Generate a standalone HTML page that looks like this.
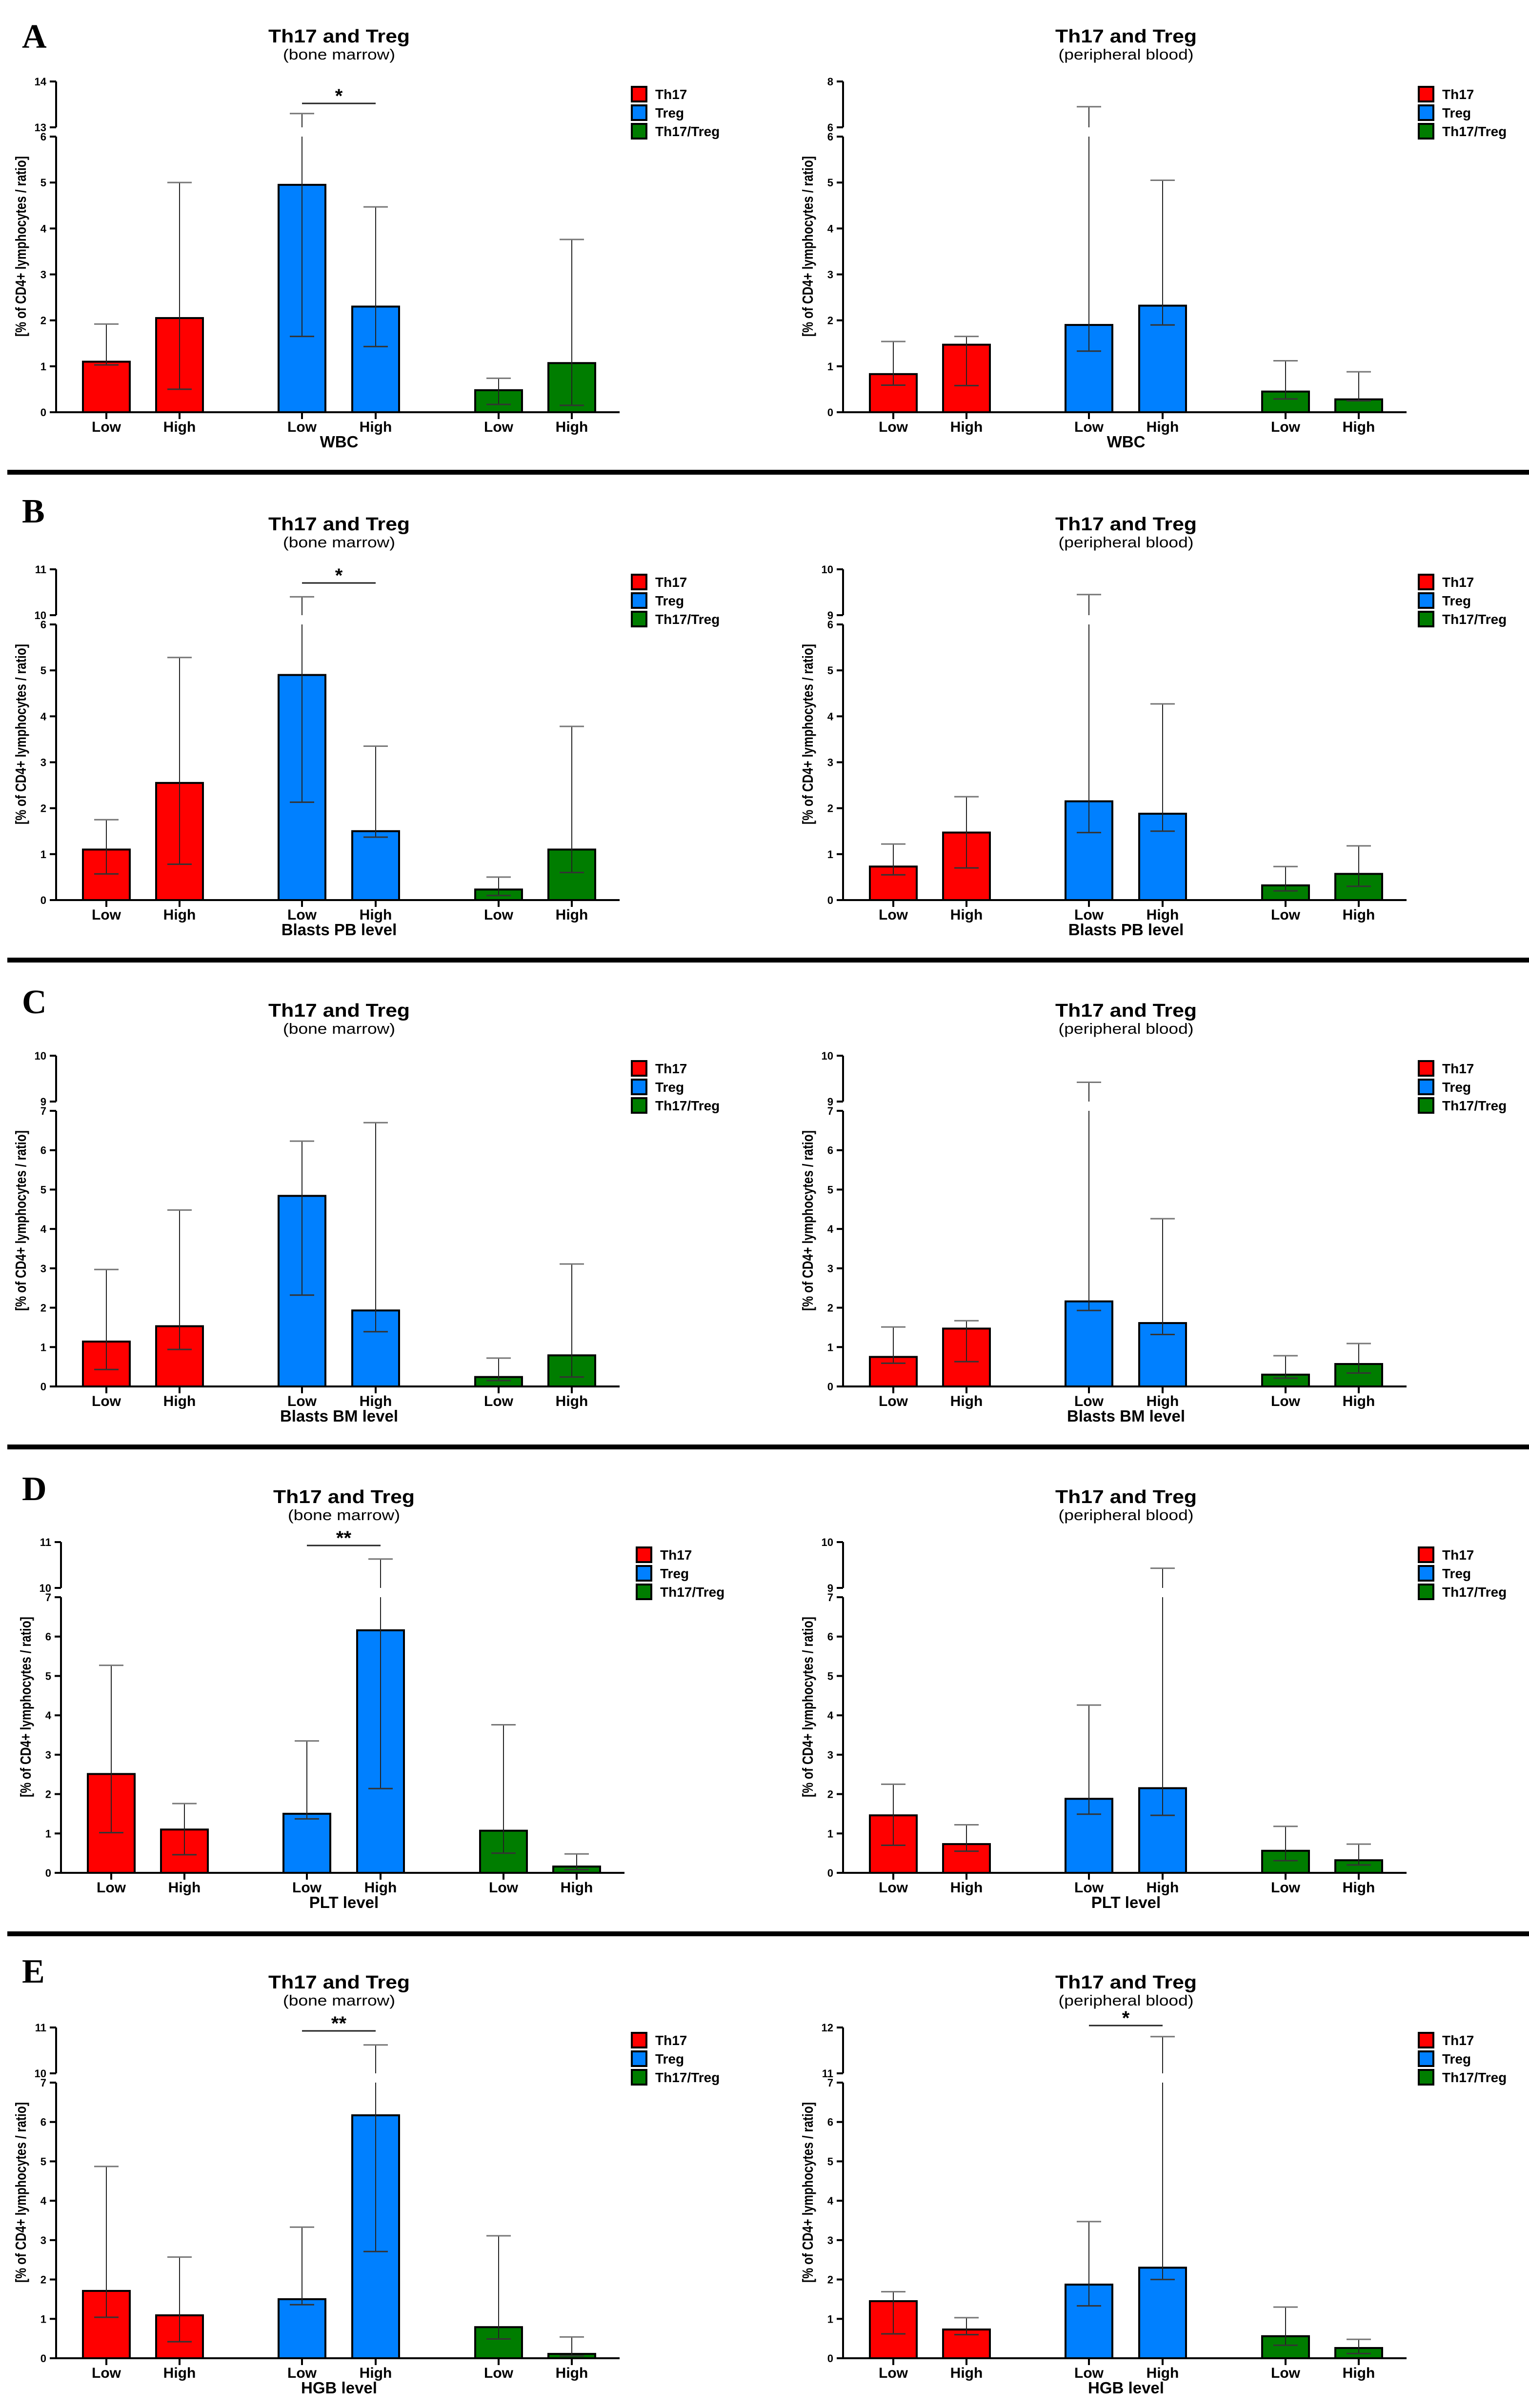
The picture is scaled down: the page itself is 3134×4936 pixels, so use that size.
<!DOCTYPE html>
<html><head><meta charset="utf-8"><title>Th17 and Treg</title>
<style>html,body{margin:0;padding:0;background:#fff}svg{display:block}</style></head>
<body>
<svg id="fig" xmlns="http://www.w3.org/2000/svg" width="3134" height="4936" viewBox="0 0 3134 4936" font-family="'Liberation Sans', Arial, sans-serif"></svg>
<script>
const groups = ['Th17','Treg','Th17/Treg'];
const levels = ['Low','High'];
const rowLetters = ['A','B','C','D','E'];
const rowXTitles = ['WBC','Blasts PB level','Blasts BM level','PLT level','HGB level'];
// axis ranges [lowerMax, upperMin, upperMax]
const aBmAxis=[6,13,14], aPbAxis=[6,6,8];
const bBmAxis=[6,10,11], bPbAxis=[6,9,10];
const cBmAxis=[7,9,10],  cPbAxis=[7,9,10];
const dBmAxis=[7,10,11], dPbAxis=[7,9,10];
const eBmAxis=[7,10,11], ePbAxis=[7,11,12];
// values: Th17 Low, Th17 High, Treg Low, Treg High, Ratio Low, Ratio High
const aBmVal=[1.1,2.05,4.95,2.3,0.48,1.07], aBmLo=[1.03,0.5,1.65,1.43,0.17,0.15], aBmHi=[1.92,5.0,13.3,4.47,0.74,3.76];
const aPbVal=[0.83,1.47,1.9,2.32,0.45,0.28], aPbLo=[0.59,0.58,1.33,1.9,0.29,0.25], aPbHi=[1.54,1.65,6.9,5.05,1.12,0.88];
const bBmVal=[1.1,2.55,4.9,1.5,0.23,1.1], bBmLo=[0.57,0.78,2.13,1.37,0.1,0.6], bBmHi=[1.75,5.28,10.4,3.35,0.5,3.78];
const bPbVal=[0.73,1.47,2.15,1.88,0.32,0.57], bPbLo=[0.55,0.7,1.47,1.5,0.2,0.3], bPbHi=[1.22,2.25,9.45,4.27,0.73,1.18];
const cBmVal=[1.14,1.53,4.84,1.93,0.24,0.79], cBmLo=[0.43,0.94,2.32,1.39,0.15,0.24], cBmHi=[2.97,4.48,6.23,6.7,0.72,3.11];
const cPbVal=[0.75,1.47,2.16,1.61,0.3,0.57], cPbLo=[0.59,0.63,1.93,1.32,0.21,0.34], cPbHi=[1.51,1.67,9.42,4.26,0.78,1.09];
const dBmVal=[2.51,1.1,1.5,6.16,1.07,0.16], dBmLo=[1.02,0.46,1.37,2.14,0.5,0.08], dBmHi=[5.27,1.76,3.35,10.63,3.76,0.48];
const dPbVal=[1.46,0.73,1.88,2.15,0.56,0.32], dPbLo=[0.7,0.55,1.49,1.46,0.31,0.2], dPbHi=[2.25,1.22,4.26,9.43,1.18,0.73];
const eBmVal=[1.71,1.09,1.5,6.17,0.79,0.11], eBmLo=[1.04,0.42,1.36,2.71,0.49,0.06], eBmHi=[4.87,2.57,3.33,10.62,3.11,0.54];
const ePbVal=[1.45,0.73,1.87,2.3,0.56,0.26], ePbLo=[0.62,0.6,1.33,2.0,0.33,0.12], ePbHi=[1.69,1.03,3.47,11.8,1.3,0.48];
// significance labels (between Treg Low and Treg High), '' = none
const bmSig=['*','*','','**','**'];
const pbSig=['','','','','*'];

const NS='http://www.w3.org/2000/svg';
const svg=document.getElementById('fig');
function mk(tag,attrs,parent,txt){const e=document.createElementNS(NS,tag);for(const k in attrs)e.setAttribute(k,attrs[k]);if(txt!==undefined)e.textContent=txt;(parent||svg).appendChild(e);return e;}

const rowZero=[853,1853,2850,3847,4842];
const letterY=[98,1071,2077,3075,4064];
const sepY=[968,1968,2966,3964];
const sigOff=[[-641,0],[-658,0],[0,0],[-679,0],[-679,-690]];
const colors=['#ff0000','#0080ff','#007d00'];
const barOff=[103,253,504,655,907,1057];
const panelData=[
 [[aBmAxis,aBmVal,aBmLo,aBmHi],[aPbAxis,aPbVal,aPbLo,aPbHi]],
 [[bBmAxis,bBmVal,bBmLo,bBmHi],[bPbAxis,bPbVal,bPbLo,bPbHi]],
 [[cBmAxis,cBmVal,cBmLo,cBmHi],[cPbAxis,cPbVal,cPbLo,cPbHi]],
 [[dBmAxis,dBmVal,dBmLo,dBmHi],[dPbAxis,dPbVal,dPbLo,dPbHi]],
 [[eBmAxis,eBmVal,eBmLo,eBmHi],[ePbAxis,ePbVal,ePbLo,ePbHi]]
];

sepY.forEach((y,i)=>{
  const l=mk('rect',{x:15,y:y-5,width:3119,height:10,fill:'#000'});
  
  
});

for(let r=0;r<5;r++){
  const lt=mk('text',{x:45,y:letterY[r],'font-family':"'Liberation Serif', serif",'font-weight':'bold','font-size':70},svg,rowLetters[r]);
  
  
  for(let c=0;c<2;c++){
    const [axis,val,lo,hi]=panelData[r][c];
    const zero=rowZero[r];
    const zb=zero-8;
    const ax=c===0?(r===3?125:115):1728;
    const g=mk('g',{});
    
    
    const [lmax,umin,umax]=axis;
    const yS=v=> v<=lmax ? zb - v/lmax*565 : zero-592-(v-umin)/(umax-umin)*94;
    const t=mk('text',{x:ax+580,y:zero-766,'text-anchor':'middle','font-weight':'bold','font-size':38,textLength:290,lengthAdjust:'spacingAndGlyphs'},g,'Th17 and Treg');
    
    const subTxt=c===0?'(bone marrow)':'(peripheral blood)';
    const st=mk('text',{x:ax+580,y:zero-731,'text-anchor':'middle','font-size':31,textLength:c===0?230:277,lengthAdjust:'spacingAndGlyphs'},g,subTxt);
    
    const ya=mk('path',{d:`M${ax},${zero-686}V${zero-592}M${ax},${zero-573}V${zb+2}`,stroke:'#000','stroke-width':4,fill:'none'},g);
    
    const ticks=[];for(let v=0;v<=lmax;v++)ticks.push(v);ticks.push(umin);ticks.push(umax);
    ticks.forEach((v,i)=>{
      const yy= i===ticks.length-2 ? zero-592 : (i===ticks.length-1? zero-686 : yS(v));
      mk('line',{x1:ax-13,x2:ax,y1:yy,y2:yy,stroke:'#000','stroke-width':4},g);
      const tl=mk('text',{x:ax-20,y:yy+8,'text-anchor':'end','font-weight':'bold','font-size':22},g,String(v));
      
    });
    const yl=mk('text',{x:0,y:0,'text-anchor':'middle','font-weight':'bold','font-size':31,textLength:370,lengthAdjust:'spacingAndGlyphs',transform:`translate(${ax-62},${zero-348}) rotate(-90)`},g,'[% of CD4+ lymphocytes / ratio]');
    
    const xa=mk('line',{x1:ax-10,x2:ax+1155,y1:zb,y2:zb,stroke:'#000','stroke-width':4},g);
    
    val.forEach((v,i)=>{
      const cx=ax+barOff[i];
      const col=colors[Math.floor(i/2)];
      const top=yS(v);
      const b=mk('rect',{x:cx-48,y:top,width:96,height:zb-top,fill:col,stroke:'#000','stroke-width':4},g);
      
      
      const yh=yS(hi[i]), yl2=yS(lo[i]);
      let d;
      if(hi[i]>lmax) d=`M${cx},${yl2}V${zero-573}M${cx},${zero-592}V${yh}`;
      else d=`M${cx},${yl2}V${yh}`;
      const eb=mk('path',{d:d,stroke:'#222','stroke-width':2,fill:'none'},g);
      
      mk('line',{x1:cx-25,x2:cx+25,y1:yh,y2:yh,stroke:'#777','stroke-width':3},g);
      mk('line',{x1:cx-25,x2:cx+25,y1:yl2,y2:yl2,stroke:'#333','stroke-width':3},g);
      mk('line',{x1:cx,x2:cx,y1:zb,y2:zb+14,stroke:'#000','stroke-width':4},g);
      const xl=mk('text',{x:cx,y:zb+40,'text-anchor':'middle','font-weight':'bold','font-size':30},g,levels[i%2]);
      
    });
    const xt=mk('text',{x:ax+580,y:zb+72,'text-anchor':'middle','font-weight':'bold','font-size':33},g,rowXTitles[r]);
    
    const sig=c===0?bmSig[r]:pbSig[r];
    if(sig){
      const sy=zero+sigOff[r][c];
      const sl=mk('line',{x1:ax+barOff[2],x2:ax+barOff[3],y1:sy,y2:sy,stroke:'#222','stroke-width':3},g);
      
      const ss=mk('text',{x:ax+(barOff[2]+barOff[3])/2,y:sy-2,'text-anchor':'middle','font-weight':'bold','font-size':40},g,sig);
      
    }
    const lg=mk('g',{},g);
    
    groups.forEach((nm,k)=>{
      const ly=zero-660+k*38;
      const sq=mk('rect',{x:ax+1180,y:ly-15,width:30,height:30,fill:colors[k],stroke:'#000','stroke-width':4},lg);
      
      const lt2=mk('text',{x:ax+1228,y:ly+10,'font-weight':'bold','font-size':28},lg,nm);
      
    });
  }
}
</script>
</body></html>
